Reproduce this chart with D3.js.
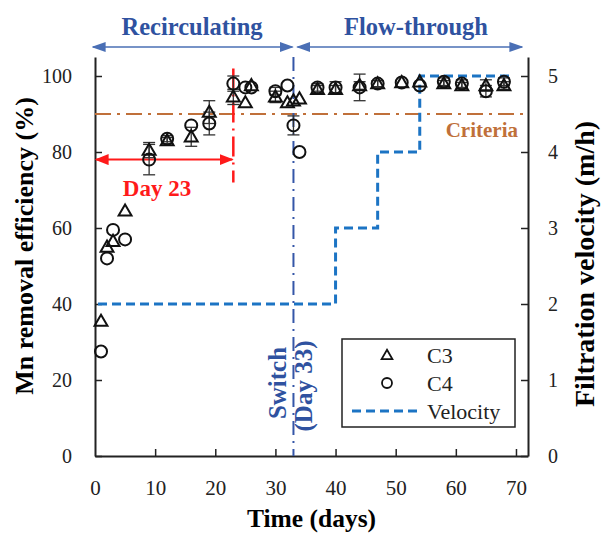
<!DOCTYPE html>
<html lang="en">
<head>
    <meta charset="UTF-8">
    <title>Mn removal efficiency</title>
    <script src="https://cdn.jsdelivr.net/npm/d3@7/dist/d3.min.js"></script>
    <style>
        body { margin: 0; background: #fff; }
        svg { display: block; }
    </style>
</head>
<body>
<script>
    // 图表数据
    const days = [1, 2, 3, 5, 9, 12, 16, 19, 23, 25, 26, 30, 32, 33, 34, 37, 40, 44, 47, 51, 54, 58, 61, 65, 68];
    const c3 = [35.5, 55, 56.5, 64.5, 80.5, 83, 84, 90.5, 94.5, 93, 97.5, 94.5, 93, 93.5, 94, 96.5, 96.5, 97.5, 98, 98.3, 98.5, 98, 97.5, 97.5, 97.5];
    const c3Err = [0, 0, 0, 0, 2, 0.8, 2.5, 3, 2, 0, 0, 1.5, 0, 0, 0, 1, 1, 1, 0.8, 0, 0, 0.8, 0.8, 1.5, 1];
    const c4 = [27.5, 52, 59.5, 57, 78, 83.5, 87, 87.5, 98, 97, 97, 96, 97.5, 87, 80, 97, 97, 97, 98, 98.3, 97.5, 98.5, 98, 96, 98.5];
    const c4Err = [0, 0, 0, 0, 4, 0.8, 0, 3, 2, 0, 0, 1, 0, 2.5, 0, 1, 1.5, 3.5, 0.8, 0, 0, 1, 1, 1.5, 1];

    // 过滤速度（阶梯）
    const velDays = [0.5, 40, 47, 54, 69];
    const velValues = [2, 3, 4, 5, 5];

    const effTicks = [0, 20, 40, 60, 80, 100];
    const velTicks = [0, 1, 2, 3, 4, 5];
    const dayTicks = [0, 10, 20, 30, 40, 50, 60, 70];

    const criteria = 90;
    const switchDay = 33;
    const redDay = 23;

    const width = 603;
    const height = 534;
    const margin = { left: 95, right: 75, top: 57, bottom: 78 };
    const serif = '"Liberation Serif", "Times New Roman", serif';

    const svg = d3.select('body')
        .append('svg')
        .attr('width', width)
        .attr('height', height)
        .attr('font-family', serif);

    const x = d3.scaleLinear().domain([0, 72]).range([margin.left, width - margin.right]);
    const y = d3.scaleLinear().domain([0, 105]).range([height - margin.bottom, margin.top]);
    const yv = d3.scaleLinear().domain([0, 5.25]).range([height - margin.bottom, margin.top]);

    const blueText = '#2F52A0';
    const blueArrow = '#4A6FB5';
    const velBlue = '#1C74C4';
    const brown = '#C0703A';
    const red = '#FF1A1A';

    const defs = svg.append('defs');
    function arrowMarker(id, color, w, h) {
        defs.append('marker')
            .attr('id', id)
            .attr('viewBox', '0 0 10 10')
            .attr('refX', 9).attr('refY', 5)
            .attr('markerWidth', w).attr('markerHeight', h)
            .attr('markerUnits', 'userSpaceOnUse')
            .attr('orient', 'auto-start-reverse')
            .attr('preserveAspectRatio', 'none')
            .append('path')
            .attr('d', 'M0,0 L10,5 L0,10 Z')
            .attr('fill', color);
    }
    arrowMarker('arrBlue', blueArrow, 14, 10);
    arrowMarker('arrRed', red, 14, 11);

    // 坐标轴
    const axisColor = '#222';
    const bottomY = y(0);

    const xAxis = svg.append('g')
        .attr('transform', 'translate(0,' + bottomY + ')')
        .call(d3.axisBottom(x).tickValues(dayTicks).tickSizeInner(-7).tickSizeOuter(0).tickPadding(24));
    const yAxis = svg.append('g')
        .attr('transform', 'translate(' + margin.left + ',0)')
        .call(d3.axisLeft(y).tickValues(effTicks).tickSizeInner(-7).tickSizeOuter(0).tickPadding(23));
    const yvAxis = svg.append('g')
        .attr('transform', 'translate(' + x(72) + ',0)')
        .call(d3.axisRight(yv).tickValues(velTicks).tickFormat(d3.format('d'))
            .tickSizeInner(-7).tickSizeOuter(0).tickPadding(20));

    [xAxis, yAxis, yvAxis].forEach(g => {
        g.attr('font-family', serif).attr('font-size', 21);
        g.select('.domain').attr('stroke', axisColor).attr('stroke-width', 2);
        g.selectAll('.tick line').attr('stroke', axisColor).attr('stroke-width', 1.5);
        g.selectAll('.tick text').attr('fill', '#222');
    });
    yAxis.attr('font-size', 20);
    yvAxis.attr('font-size', 20);
    xAxis.selectAll('.tick').filter(d => d === 0).select('line').remove();

    // 轴标题
    svg.append('text')
        .attr('x', x(36)).attr('y', 527)
        .attr('text-anchor', 'middle')
        .attr('font-size', 25.5).attr('font-weight', 'bold')
        .text('Time (days)');
    svg.append('text')
        .attr('transform', 'translate(33,246) rotate(-90)')
        .attr('text-anchor', 'middle')
        .attr('font-size', 26).attr('font-weight', 'bold')
        .text('Mn removal efficiency (%)');
    svg.append('text')
        .attr('transform', 'translate(594,264) rotate(-90)')
        .attr('text-anchor', 'middle')
        .attr('font-size', 28).attr('font-weight', 'bold')
        .text('Filtration velocity (m/h)');

    // 标准线
    svg.append('line')
        .attr('x1', x(0)).attr('x2', x(72))
        .attr('y1', y(criteria)).attr('y2', y(criteria))
        .attr('stroke', brown).attr('stroke-width', 2)
        .attr('stroke-dasharray', '16,6,3,6');
    svg.append('text')
        .attr('x', 518).attr('y', 137)
        .attr('text-anchor', 'end')
        .attr('fill', brown)
        .attr('font-size', 21).attr('font-weight', 'bold')
        .text('Criteria');

    // 速度阶梯线
    const velLine = d3.line()
        .x((d, i) => x(velDays[i]))
        .y(d => yv(d))
        .curve(d3.curveStepAfter);
    svg.append('path')
        .datum(velValues)
        .attr('d', velLine)
        .attr('fill', 'none')
        .attr('stroke', velBlue)
        .attr('stroke-width', 3)
        .attr('stroke-dasharray', '9,5');

    // 切换线（第33天）
    svg.append('line')
        .attr('x1', x(switchDay)).attr('x2', x(switchDay))
        .attr('y1', y(105)).attr('y2', bottomY)
        .attr('stroke', '#3556A8').attr('stroke-width', 2)
        .attr('stroke-dasharray', '14,6,2,6');
    const sw = svg.append('g').attr('fill', blueText)
        .attr('font-size', 25).attr('font-weight', 'bold');
    sw.append('text')
        .attr('transform', 'translate(286,383) rotate(-90)')
        .attr('text-anchor', 'middle')
        .text('Switch');
    sw.append('text')
        .attr('transform', 'translate(312,386) rotate(-90)')
        .attr('text-anchor', 'middle')
        .text('(Day 33)');

    // 第23天红线
    svg.append('line')
        .attr('x1', x(redDay)).attr('x2', x(redDay))
        .attr('y1', y(102)).attr('y2', y(72))
        .attr('stroke', red).attr('stroke-width', 2.5)
        .attr('stroke-dasharray', '20,6,2,6');
    svg.append('line')
        .attr('x1', x(0) + 1).attr('x2', x(redDay) - 1)
        .attr('y1', y(78)).attr('y2', y(78))
        .attr('stroke', red).attr('stroke-width', 2)
        .attr('marker-start', 'url(#arrRed)')
        .attr('marker-end', 'url(#arrRed)');
    svg.append('text')
        .attr('x', 157).attr('y', 196)
        .attr('text-anchor', 'middle')
        .attr('fill', red)
        .attr('font-size', 23).attr('font-weight', 'bold')
        .text('Day 23');

    // 顶部阶段箭头
    const arrowY = 47;
    svg.append('line')
        .attr('x1', x(0) - 2).attr('x2', x(switchDay) - 1)
        .attr('y1', arrowY).attr('y2', arrowY)
        .attr('stroke', blueArrow).attr('stroke-width', 1.5)
        .attr('marker-start', 'url(#arrBlue)')
        .attr('marker-end', 'url(#arrBlue)');
    svg.append('line')
        .attr('x1', x(switchDay) + 4).attr('x2', 522)
        .attr('y1', arrowY).attr('y2', arrowY)
        .attr('stroke', blueArrow).attr('stroke-width', 1.5)
        .attr('marker-start', 'url(#arrBlue)')
        .attr('marker-end', 'url(#arrBlue)');
    svg.append('text')
        .attr('x', 192).attr('y', 35)
        .attr('text-anchor', 'middle')
        .attr('fill', blueText)
        .attr('font-size', 24.5).attr('font-weight', 'bold')
        .text('Recirculating');
    svg.append('text')
        .attr('x', 416).attr('y', 35)
        .attr('text-anchor', 'middle')
        .attr('fill', blueText)
        .attr('font-size', 24.5).attr('font-weight', 'bold')
        .text('Flow-through');

    // 误差线
    function errorBars(vals, errs) {
        const g = svg.append('g').attr('stroke', '#333').attr('stroke-width', 1.3);
        days.forEach((d, i) => {
            if (!errs[i]) return;
            const cx = x(d);
            const y1 = y(vals[i] - errs[i]);
            const y2 = y(vals[i] + errs[i]);
            g.append('line').attr('x1', cx).attr('x2', cx).attr('y1', y1).attr('y2', y2);
            g.append('line').attr('x1', cx - 6).attr('x2', cx + 6).attr('y1', y1).attr('y2', y1);
            g.append('line').attr('x1', cx - 6).attr('x2', cx + 6).attr('y1', y2).attr('y2', y2);
        });
    }
    errorBars(c3, c3Err);
    errorBars(c4, c4Err);

    // 散点
    const tri = d3.symbol().type(d3.symbolTriangle).size(72);
    svg.append('g')
        .selectAll('path')
        .data(c3)
        .join('path')
        .attr('d', tri)
        .attr('transform', (d, i) => 'translate(' + x(days[i]) + ',' + (y(d) + 1) + ')')
        .attr('fill', 'none')
        .attr('stroke', '#111')
        .attr('stroke-width', 2);
    svg.append('g')
        .selectAll('circle')
        .data(c4)
        .join('circle')
        .attr('cx', (d, i) => x(days[i]))
        .attr('cy', d => y(d))
        .attr('r', 6)
        .attr('fill', 'none')
        .attr('stroke', '#111')
        .attr('stroke-width', 2);

    // 图例
    const lg = svg.append('g');
    lg.append('rect')
        .attr('x', 342).attr('y', 339)
        .attr('width', 173).attr('height', 88)
        .attr('fill', '#fff')
        .attr('stroke', '#222').attr('stroke-width', 1.5);
    lg.append('path')
        .attr('d', d3.symbol().type(d3.symbolTriangle).size(50))
        .attr('transform', 'translate(387,356)')
        .attr('fill', 'none').attr('stroke', '#111').attr('stroke-width', 1.8);
    lg.append('circle')
        .attr('cx', 387).attr('cy', 383).attr('r', 5)
        .attr('fill', 'none').attr('stroke', '#111').attr('stroke-width', 1.8);
    lg.append('line')
        .attr('x1', 352).attr('x2', 420)
        .attr('y1', 411).attr('y2', 411)
        .attr('stroke', velBlue).attr('stroke-width', 3)
        .attr('stroke-dasharray', '9,5');
    const legendLabels = ['C3', 'C4', 'Velocity'];
    lg.selectAll('text.lab')
        .data(legendLabels)
        .join('text')
        .attr('class', 'lab')
        .attr('x', 427)
        .attr('y', (d, i) => 363 + i * 28)
        .attr('fill', '#222')
        .attr('font-size', 22)
        .text(d => d);
</script>
</body>
</html>
